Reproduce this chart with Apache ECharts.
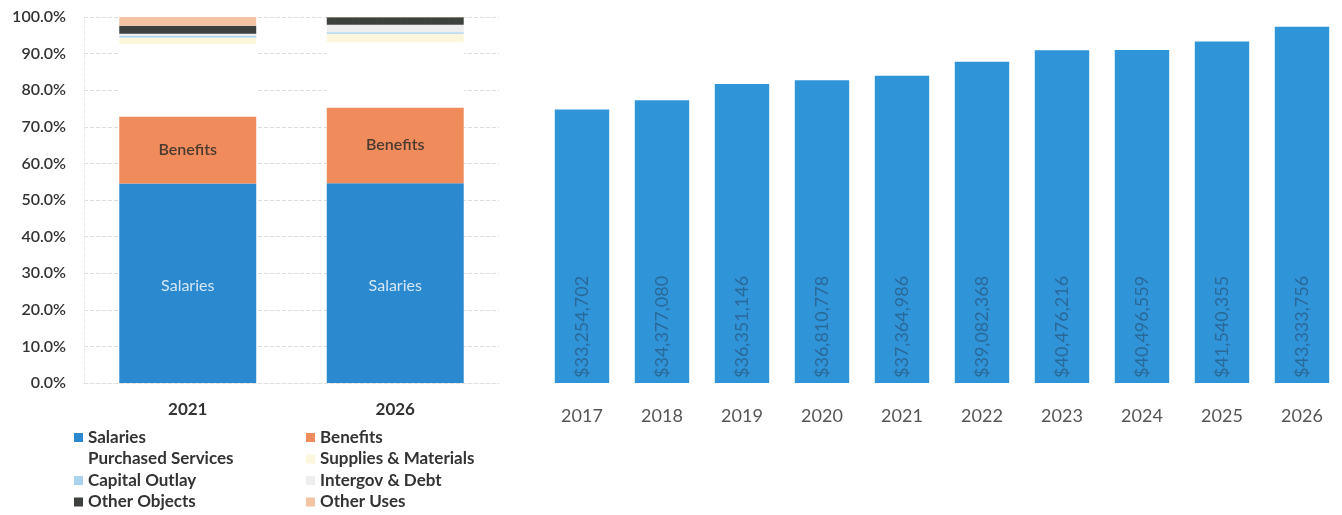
<!DOCTYPE html>
<html>
<head>
<meta charset="utf-8">
<script src="https://cdn.jsdelivr.net/npm/echarts@6/dist/echarts.min.js"></script>
<style>
  html, body { margin: 0; padding: 0; background: #ffffff; }
  #chart { width: 1342px; height: 515px; }
</style>
</head>
<body>
<div id="chart"></div>
<script>
// Share of spending by object (percent of total), two fiscal years
const shareYears = ['2021', '2026'];
const salaries = [54.5, 54.6];
const benefits = [18.3, 20.7];
const purchasedServices = [19.8, 17.8];
const suppliesMaterials = [1.8, 2.3];
const capitalOutlay = [0.5, 0.4];
const intergovDebt = [0.5, 2.1];
const otherObjects = [2.2, 2.0];
const otherUses = [2.4, 0.1];

// Total budget by year
const budgetYears = ['2017', '2018', '2019', '2020', '2021', '2022', '2023', '2024', '2025', '2026'];
const budgetTotals = [33254702, 34377080, 36351146, 36810778, 37364986, 39082368, 40476216, 40496559, 41540355, 43333756];

const percentTicks = { min: 0, max: 100, interval: 10 };

const FONT = 'Lato, "Open Sans", sans-serif';

const shareSeriesDefs = [
  { name: 'Salaries', data: salaries, color: '#2a89cf',
    label: { show: true, formatter: 'Salaries', color: '#d6e7f5', fontSize: 16, fontFamily: FONT, offset: [0, 3] } },
  { name: 'Benefits', data: benefits, color: '#f08b5c',
    label: { show: true, formatter: 'Benefits', color: '#4a3a30', fontSize: 16, fontWeight: 600, fontFamily: FONT } },
  { name: 'Purchased Services', data: purchasedServices, color: '#ffffff' },
  { name: 'Supplies & Materials', data: suppliesMaterials, color: '#fbf6dc' },
  { name: 'Capital Outlay', data: capitalOutlay, color: '#a9d2ee' },
  { name: 'Intergov & Debt', data: intergovDebt, color: '#eeeeee' },
  { name: 'Other Objects', data: otherObjects, color: '#3c413e' },
  { name: 'Other Uses', data: otherUses, color: '#f3c3a4' }
];

const shareSeries = shareSeriesDefs.map(d => ({
  name: d.name,
  type: 'bar',
  stack: 'share',
  xAxisIndex: 0,
  yAxisIndex: 0,
  barWidth: '66%',
  data: d.data,
  itemStyle: { color: d.color },
  label: d.label || { show: false },
  emphasis: { disabled: true }
}));

function money(v) {
  return '$' + String(v).replace(/\B(?=(\d{3})+(?!\d))/g, ',');
}

const legendText = { fontFamily: FONT, fontSize: 17, fontWeight: 'bold', color: '#333333', lineHeight: 16 };

const option = {
  animation: false,
  backgroundColor: '#ffffff',
  textStyle: { fontFamily: FONT },
  grid: [
    { left: 84, top: 17, width: 415, height: 366 },
    { left: 542, top: 13, right: -6, bottom: 132 }
  ],
  legend: [
    {
      orient: 'vertical', left: 74, top: 429, padding: 0, height: 90,
      itemWidth: 9, itemHeight: 9, itemGap: 4.5,
      icon: 'rect',
      textStyle: legendText,
      data: ['Salaries', 'Purchased Services', 'Capital Outlay', 'Other Objects']
    },
    {
      orient: 'vertical', left: 306, top: 429, padding: 0, height: 90,
      itemWidth: 9, itemHeight: 9, itemGap: 4.5,
      icon: 'rect',
      textStyle: legendText,
      data: ['Benefits', 'Supplies & Materials', 'Intergov & Debt', 'Other Uses']
    }
  ],
  xAxis: [
    {
      gridIndex: 0, type: 'category', data: shareYears,
      axisLine: { show: true, lineStyle: { color: '#e2e2e2', type: 'dashed' } },
      axisTick: { show: false },
      axisLabel: { margin: 18, fontSize: 17, fontWeight: 'bold', color: '#333333', fontFamily: FONT }
    },
    {
      gridIndex: 1, type: 'category', data: budgetYears,
      axisLine: { show: false },
      axisTick: { show: false },
      axisLabel: { margin: 24, fontSize: 18, color: '#555555', fontFamily: FONT }
    }
  ],
  yAxis: [
    {
      gridIndex: 0, type: 'value',
      min: percentTicks.min, max: percentTicks.max, interval: percentTicks.interval,
      axisLine: { show: true, lineStyle: { color: '#ececec', type: 'dashed' } },
      axisTick: { show: false },
      splitLine: { show: true, lineStyle: { color: '#dddddd', type: 'dashed' } },
      axisLabel: {
        margin: 18, fontSize: 16, fontWeight: 600, color: '#333333', fontFamily: FONT,
        formatter: v => v.toFixed(1) + '%'
      }
    },
    {
      gridIndex: 1, type: 'value', min: 0, max: 45000000,
      show: false,
      splitLine: { show: false }
    }
  ],
  series: shareSeries.concat([
    {
      name: 'Total Budget',
      type: 'bar',
      xAxisIndex: 1,
      yAxisIndex: 1,
      barCategoryGap: '32%',
      data: budgetTotals,
      itemStyle: { color: '#2f95d8' },
      emphasis: { disabled: true },
      label: {
        show: true,
        position: 'insideBottom',
        rotate: 90,
        align: 'left',
        verticalAlign: 'middle',
        distance: 5,
        color: 'rgba(40,75,110,0.6)',
        fontSize: 18,
        fontFamily: FONT,
        formatter: p => money(p.value)
      }
    }
  ])
};

const chart = echarts.init(document.getElementById('chart'), null, { renderer: 'canvas' });
chart.setOption(option);
</script>
</body>
</html>
